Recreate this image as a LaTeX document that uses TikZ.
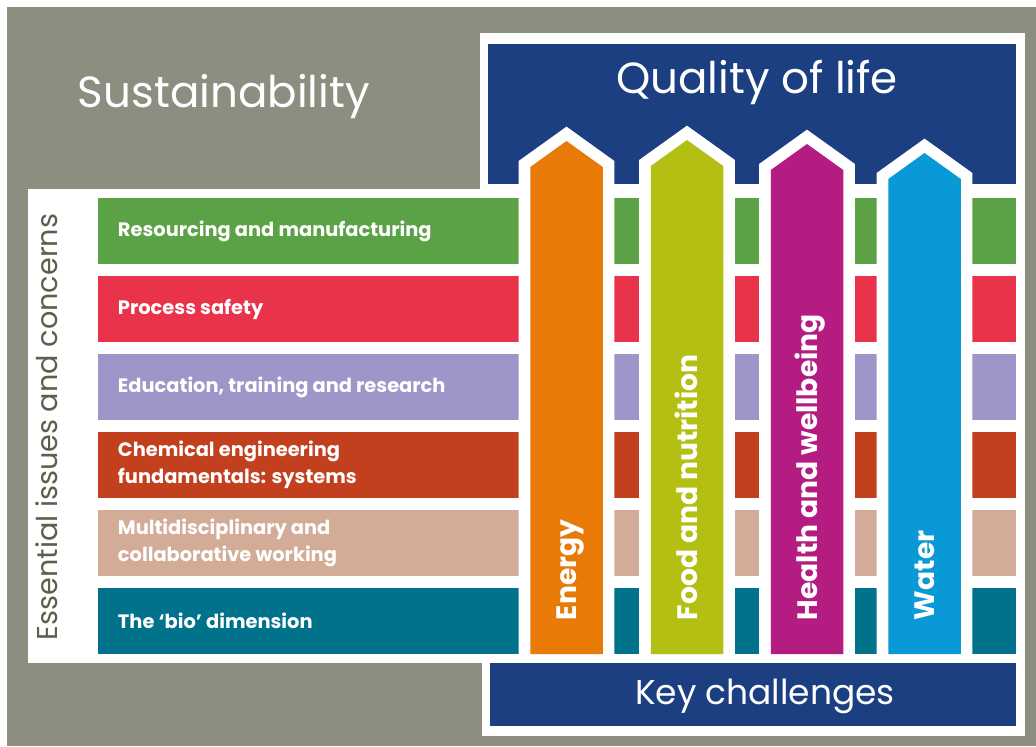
\documentclass[tikz,border=0pt]{standalone}
\usepackage{fontspec}
\setmainfont{Poppins}
\usetikzlibrary{positioning}
\definecolor{sustGrey}{HTML}{8E8E80}
\definecolor{sustText}{HTML}{5E5E4E}
\definecolor{qolBlue}{HTML}{1B3F81}
\definecolor{resGreen}{HTML}{5BA246}
\definecolor{procRed}{HTML}{E8334A}
\definecolor{eduPurple}{HTML}{9C97C8}
\definecolor{chemRust}{HTML}{C2401E}
\definecolor{multiTan}{HTML}{D3AC97}
\definecolor{bioTeal}{HTML}{00728C}
\definecolor{energyOrange}{HTML}{E87A08}
\definecolor{foodLime}{HTML}{B4BF13}
\definecolor{healthMagenta}{HTML}{B41C82}
\definecolor{waterBlue}{HTML}{0899D6}

\begin{document}
\begin{tikzpicture}[x=0.025cm,y=-0.025cm,
  headline/.style={text=white,anchor=base,font=\fontsize{31}{36}\selectfont},
  barlabel/.style={text=white,anchor=west,align=left,
                   font=\bfseries\fontsize{13.8}{19}\selectfont},
  collabel/.style={text=white,anchor=base west,rotate=90,
                   font=\bfseries\fontsize{20}{24}\selectfont}]
\useasboundingbox (0,0) rectangle (1036,746);
% frame
\fill[white] (0,0) rectangle (1036,746);
\fill[sustGrey] (7,7) rectangle (1036,746);
\fill[white] (480,33) rectangle (1025,190);
\fill[white] (28,189) rectangle (1025,663);
\fill[white] (482,655) rectangle (1025,736);
\node[headline,anchor=base west] (sust) at (73,107) {Sustainability};
% quality of life
\fill[qolBlue] (488,44) rectangle (1016,184);
\node[headline] (qol) at (757,93) {Quality of life};
% issues and concerns
\node[text=sustText,rotate=90,font=\fontsize{20.4}{24}\selectfont] (issues) at (47,427)
  {Essential issues and concerns};
\foreach \c/\t [count=\i from 0] in {
    resGreen/Resourcing and manufacturing,
    procRed/Process safety,
    eduPurple/{Education, training and research},
    chemRust/{Chemical engineering\\fundamentals: systems},
    multiTan/{Multidisciplinary and\\collaborative working},
    bioTeal/The ‘bio’ dimension}{
  \fill[\c] (98,{198+78*\i}) rectangle (1016,{264+78*\i});
  \node[barlabel] (bar\i) at (113,{231+78*\i}) {\t};
}
% key challenges
\foreach \x/\tip/\c/\t [count=\i] in {
    566.5/141/energyOrange/Energy,
    687/140/foodLime/Food and nutrition,
    807/144/healthMagenta/Health and wellbeing,
    924.5/153/waterBlue/Water}{
  \filldraw[white,line width=16.6pt,line join=miter]
    ({\x-36.25},654) -- ({\x-36.25},{\tip+26}) -- (\x,\tip)
    -- ({\x+36.25},{\tip+26}) -- ({\x+36.25},654) -- cycle;
  \fill[\c] ({\x-36.25},654) -- ({\x-36.25},{\tip+26}) -- (\x,\tip)
    -- ({\x+36.25},{\tip+26}) -- ({\x+36.25},654) -- cycle;
  \node[collabel] (col\i) at ({\x+10},625) {\t};
}
\fill[qolBlue] (490,663) rectangle (1016,726);
\node[headline,font=\fontsize{24.5}{28}\selectfont] (keys) at (765,704) {Key challenges};
\end{tikzpicture}
\end{document}
